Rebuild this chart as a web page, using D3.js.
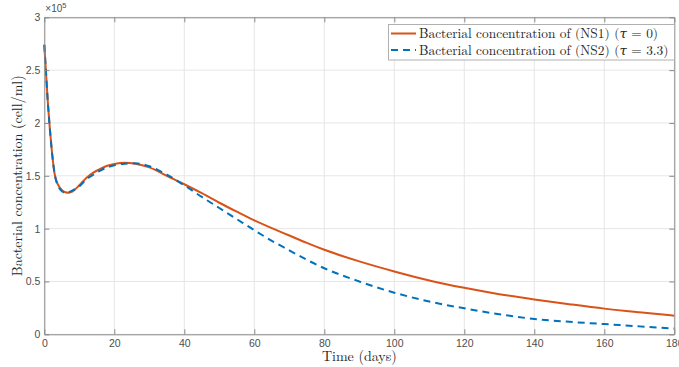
<!DOCTYPE html>
<html>
<head>
<meta charset="utf-8">
<script src="https://cdn.jsdelivr.net/npm/d3@7"></script>
<style>
  body { margin: 0; background: #fff; }
  svg { display: block; }
</style>
</head>
<body>
<svg width="679" height="367"></svg>
<script>
// time points (days)
var days = [0, 0.5, 1, 1.5, 2, 2.5, 3, 3.5, 4, 5, 6, 7, 8, 10, 12, 14, 16, 18, 20, 23, 26, 30, 35, 40, 45, 50, 55, 60, 65, 70, 75, 80, 90, 100, 110, 120, 130, 140, 150, 160, 170, 180];

// bacterial concentration (x 10^5 cell/ml)
var ns1 = [2.74, 2.47, 2.2, 1.98, 1.79, 1.63, 1.51, 1.45, 1.41, 1.365, 1.345, 1.34, 1.35, 1.41, 1.48, 1.53, 1.565, 1.595, 1.612, 1.624, 1.615, 1.58, 1.50, 1.42, 1.335, 1.245, 1.16, 1.078, 1.005, 0.935, 0.865, 0.80, 0.69, 0.595, 0.51, 0.44, 0.38, 0.33, 0.285, 0.243, 0.208, 0.176];
var ns2 = [2.74, 2.47, 2.2, 1.98, 1.79, 1.63, 1.51, 1.44, 1.40, 1.355, 1.34, 1.345, 1.36, 1.40, 1.465, 1.51, 1.55, 1.58, 1.60, 1.615, 1.618, 1.59, 1.51, 1.41, 1.30, 1.195, 1.09, 0.985, 0.885, 0.795, 0.705, 0.625, 0.50, 0.394, 0.31, 0.246, 0.19, 0.145, 0.118, 0.097, 0.075, 0.055];

var xTicks = [0, 20, 40, 60, 80, 100, 120, 140, 160, 180];
var yTicks = [0, 0.5, 1, 1.5, 2, 2.5, 3];
var legendLabels = ["Bacterial concentration of (NS1) (", "Bacterial concentration of (NS2) ("];
var legendTau = ["0", "3.3"];

var svg = d3.select("svg");

var x = d3.scaleLinear().domain([0, 180]).range([44.3, 674.3]);
var y = d3.scaleLinear().domain([0, 3]).range([334.3, 17.3]);

var axisCol = "#8a8a8a";
var textCol = "#4d4d4d";

// grid
var grid = svg.append("g");
grid.selectAll(".gx").data(xTicks).enter().append("line")
  .attr("x1", function(d) { return x(d); }).attr("x2", function(d) { return x(d); })
  .attr("y1", y(0)).attr("y2", y(3))
  .attr("stroke", "#e6e6e6").attr("stroke-width", 1);
grid.selectAll(".gy").data(yTicks).enter().append("line")
  .attr("x1", x(0)).attr("x2", x(180))
  .attr("y1", function(d) { return y(d); }).attr("y2", function(d) { return y(d); })
  .attr("stroke", "#e6e6e6").attr("stroke-width", 1);

// lines
var line = function(vals) {
  return d3.line()
    .x(function(d, i) { return x(days[i]); })
    .y(function(d) { return y(d); })
    .curve(d3.curveMonotoneX)(vals);
};

svg.append("path").attr("d", line(ns1))
  .attr("fill", "none").attr("stroke", "#D95319").attr("stroke-width", 2);
svg.append("path").attr("d", line(ns2))
  .attr("fill", "none").attr("stroke", "#0072BD").attr("stroke-width", 2)
  .attr("stroke-dasharray", "7,5");

// axes
var fmt = function(d) { return String(d); };
var xAxis = svg.append("g").attr("transform", "translate(0," + y(0) + ")")
  .call(d3.axisBottom(x).tickValues(xTicks).tickFormat(fmt).tickSizeInner(-5).tickSizeOuter(0).tickPadding(5));
var xTop = svg.append("g").attr("transform", "translate(0," + y(3) + ")")
  .call(d3.axisTop(x).tickValues(xTicks).tickFormat("").tickSizeInner(-5).tickSizeOuter(0));
var yAxis = svg.append("g").attr("transform", "translate(" + x(0) + ",0)")
  .call(d3.axisLeft(y).tickValues(yTicks).tickFormat(fmt).tickSizeInner(-5).tickSizeOuter(0).tickPadding(4));
var yRight = svg.append("g").attr("transform", "translate(" + x(180) + ",0)")
  .call(d3.axisRight(y).tickValues(yTicks).tickFormat("").tickSizeInner(-5).tickSizeOuter(0));

[xAxis, xTop, yAxis, yRight].forEach(function(g) {
  g.selectAll("path").attr("stroke", axisCol);
  g.selectAll("line").attr("stroke", axisCol);
  g.selectAll("text").attr("fill", textCol)
    .style("font-family", "'Liberation Sans', Arial, sans-serif").style("font-size", "10.5px");
});

// exponent label
var ex = svg.append("text").attr("x", x(0) + 1).attr("y", 12)
  .attr("fill", textCol).style("font-family", "'Liberation Sans', Arial, sans-serif").style("font-size", "10px");
ex.append("tspan").text("\u00d710");
ex.append("tspan").attr("dy", -4).style("font-size", "7.5px").text("5");

// axis labels
var serif = "'Latin Modern Roman', 'CMU Serif', 'DejaVu Serif', serif";
svg.append("text").attr("x", (x(0) + x(180)) / 2).attr("y", 361)
  .attr("text-anchor", "middle").attr("fill", "#262626")
  .style("font-family", serif).style("font-size", "14px").text("Time (days)");
svg.append("text").attr("transform", "translate(22," + ((y(0) + y(3)) / 2) + ") rotate(-90)")
  .attr("text-anchor", "middle").attr("fill", "#262626")
  .style("font-family", serif).style("font-size", "14px").text("Bacterial concentration (cell/ml)");

// legend
var lg = svg.append("g");
lg.append("rect").attr("x", 388.5).attr("y", 24.5).attr("width", 286).attr("height", 35.5)
  .attr("fill", "#fff").attr("stroke", "#b0b0b0").attr("stroke-width", 1);
var cols = ["#D95319", "#0072BD"];
var dashes = [null, "7,5"];
legendLabels.forEach(function(lab, i) {
  var ly = 33.5 + i * 16.5;
  lg.append("line").attr("x1", 391).attr("x2", 416).attr("y1", ly).attr("y2", ly)
    .attr("stroke", cols[i]).attr("stroke-width", 2).attr("stroke-dasharray", dashes[i]);
  var t = lg.append("text").attr("x", 419).attr("y", ly + 4.5).attr("fill", "#262626")
    .style("font-family", serif).style("font-size", "13.4px");
  t.append("tspan").text(lab);
  t.append("tspan").style("font-style", "italic").text("\u03c4");
  t.append("tspan").text(" = " + legendTau[i] + ")");
});
</script>
</body>
</html>
